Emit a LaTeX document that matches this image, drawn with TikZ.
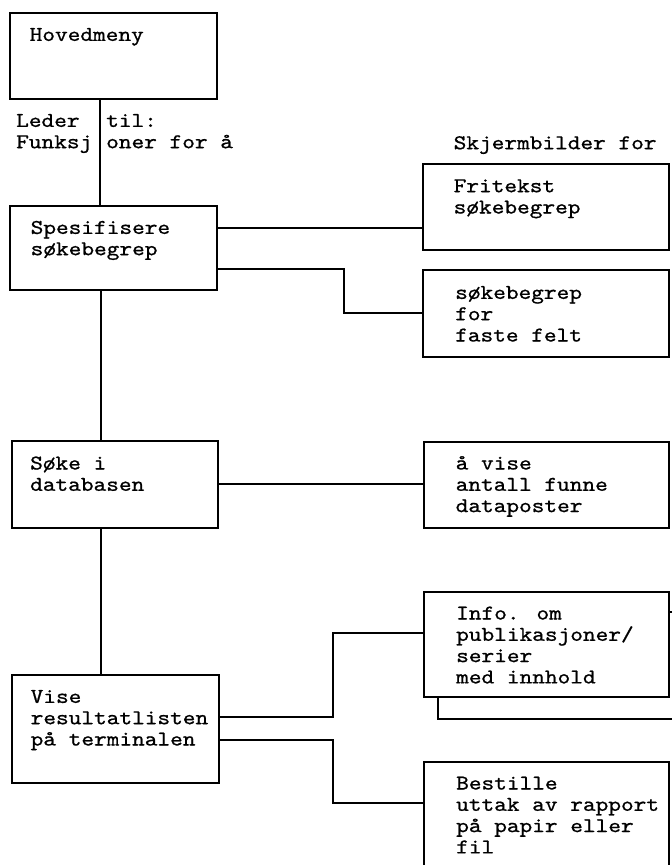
\documentclass[tikz,border=0pt]{standalone}
\usepackage{fontspec}
\newfontfamily\monof[FakeStretch=1.15,FakeBold=0.8]{lmmono10-regular.otf}
\newcommand{\fs}{\rule{0pt}{18pt}}
\begin{document}
\begin{tikzpicture}[x=1pt,y=-1pt,
  box/.style={draw, line width=1.8pt, fill=white, inner sep=0pt, anchor=north west},
  lbl/.style={anchor=north west, inner sep=0pt, align=left, font=\monof\fontsize{21}{21.3}\selectfont},
  conn/.style={line width=1.8pt}]
\clip (0,0) rectangle (672,865);
\fill[white] (0,0) rectangle (672,865);
% boxes
\node[box, minimum width=206.7pt, minimum height=86.6pt] (hoved) at (9.3,11.7) {};
\node[box, minimum width=206.7pt, minimum height=84.3pt] (spes) at (9.3,205) {};
\node[box, minimum width=246pt, minimum height=86pt] (frit) at (422,163) {};
\node[box, minimum width=246pt, minimum height=86.7pt] (faste) at (422,269.3) {};
\node[box, minimum width=206.3pt, minimum height=87pt] (soke) at (10.7,440) {};
\node[box, minimum width=245pt, minimum height=86.3pt] (avise) at (423,441) {};
\node[box, minimum width=263pt, minimum height=107pt] (infoback) at (437,611) {};
\node[box, minimum width=245pt, minimum height=105pt] (info) at (423,591) {};
\node[box, minimum width=207pt, minimum height=108pt] (vise) at (11,674) {};
\node[box, minimum width=245pt, minimum height=140pt] (best) at (423,761) {};
% connector coordinates
\coordinate (v1) at (100,0);
\coordinate (v2) at (101,0);
\coordinate (h1) at (0,227.7);
\coordinate (e1) at (344.3,269.3);
\coordinate (e1b) at (344.3,312.7);
\coordinate (h2) at (0,484.3);
\coordinate (e2) at (333.3,717);
\coordinate (e2b) at (333.3,633);
\coordinate (e3) at (333.3,740);
\coordinate (e3b) at (333.3,803.3);
% connectors
\draw[conn] (hoved.south -| v1) -- (spes.north -| v1);
\draw[conn] (spes.south -| v2) -- (soke.north -| v2);
\draw[conn] (soke.south -| v2) -- (vise.north -| v2);
\draw[conn] (spes.east |- h1) -- (frit.west |- h1);
\draw[conn] (spes.east |- e1) -- (e1) -- (e1b) -- (faste.west |- e1b);
\draw[conn] (soke.east |- h2) -- (avise.west |- h2);
\draw[conn] (vise.east |- e2) -- (e2) -- (e2b) -- (info.west |- e2b);
\draw[conn] (vise.east |- e3) -- (e3) -- (e3b) -- (best.west |- e3b);
% texts
\node[lbl] (t-hoved) at (29.5,22.7) {\fs Hovedmeny};
\node[lbl] (t-leder) at (16,108.7) {\fs Leder\\Funksj};
\node[lbl] (t-til) at (106,108.7) {\fs til:\\oner for å};
\node[lbl] (t-skj) at (453.5,131) {\fs Skjermbilder for};
\node[lbl] (t-frit) at (453.5,174) {\fs Fritekst\\søkebegrep};
\node[lbl] (t-spes) at (30.5,215.7) {\fs Spesifisere\\søkebegrep};
\node[lbl] (t-faste) at (455,280.7) {\fs søkebegrep\\for\\faste felt};
\node[lbl] (t-soke) at (30,451.3) {\fs Søke i\\databasen};
\node[lbl] (t-avise) at (455.5,451.3) {\fs å vise\\antall funne\\dataposter};
\node[lbl] (t-info) at (456,601.3) {\fs Info. om\\publikasjoner/\\serier\\med innhold};
\node[lbl] (t-vise) at (30.5,684.7) {\fs Vise\\resultatlisten\\på terminalen};
\node[lbl] (t-best) at (456,771.3) {\fs Bestille\\uttak av rapport\\på papir eller\\fil};
\end{tikzpicture}
\end{document}
